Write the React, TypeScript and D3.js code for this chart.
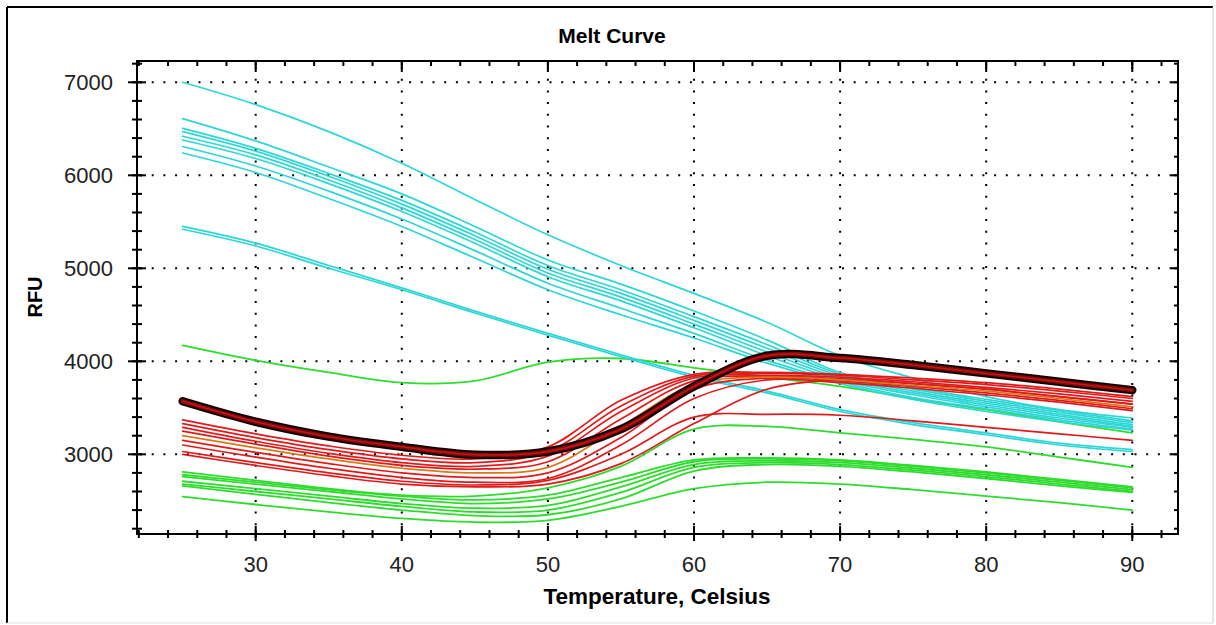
import React from "react";
import * as d3 from "d3";

const TEMPS = [25, 30, 35, 40, 45, 50, 55, 60, 65, 70, 75, 80, 85, 90];

const X_DOMAIN = [21.875, 93.13];
const Y_DOMAIN = [2143, 7229];
const X_MAJOR = [30, 40, 50, 60, 70, 80, 90];
const X_MINOR = [22, 24, 26, 28, 30, 32, 34, 36, 38, 40, 42, 44, 46, 48, 50, 52, 54, 56, 58, 60, 62, 64, 66, 68, 70, 72, 74, 76, 78, 80, 82, 84, 86, 88, 90, 92];
const Y_MAJOR = [3000, 4000, 5000, 6000, 7000];
const Y_MINOR = [2200, 2400, 2600, 2800, 3000, 3200, 3400, 3600, 3800, 4000, 4200, 4400, 4600, 4800, 5000, 5200, 5400, 5600, 5800, 6000, 6200, 6400, 6600, 6800, 7000, 7200];

const TITLE = "Melt Curve";
const X_LABEL = "Temperature, Celsius";
const Y_LABEL = "RFU";

// Cyan series
const CYAN_SERIES: number[][] = [
  [7000, 6760, 6470, 6130, 5740, 5360, 5030, 4730, 4420, 4060, 3820, 3620, 3480, 3390],
  [6610, 6370, 6090, 5800, 5450, 5090, 4830, 4540, 4230, 3880, 3720, 3590, 3470, 3360],
  [6505, 6290, 6020, 5730, 5390, 5030, 4770, 4480, 4180, 3860, 3700, 3570, 3450, 3340],
  [6470, 6260, 5990, 5690, 5350, 4990, 4730, 4440, 4140, 3840, 3680, 3550, 3430, 3320],
  [6420, 6220, 5950, 5650, 5310, 4950, 4690, 4400, 4100, 3820, 3660, 3530, 3410, 3300],
  [6380, 6180, 5910, 5610, 5270, 4910, 4650, 4360, 4060, 3800, 3640, 3510, 3390, 3290],
  [6310, 6100, 5830, 5530, 5190, 4840, 4570, 4300, 4010, 3780, 3610, 3490, 3370, 3270],
  [6240, 6030, 5750, 5450, 5110, 4770, 4500, 4250, 3980, 3760, 3590, 3460, 3350, 3260],
  [5450, 5270, 5030, 4790, 4540, 4300, 4070, 3850, 3680, 3480, 3340, 3230, 3120, 3050],
  [5420, 5240, 5000, 4770, 4520, 4280, 4050, 3830, 3660, 3460, 3320, 3210, 3100, 3030],
];

// Green series
const GREEN_SERIES: number[][] = [
  [4170, 4010, 3880, 3770, 3790, 3990, 4030, 3930, 3830, 3730, 3600, 3480, 3350, 3230],
  [2810, 2720, 2630, 2560, 2550, 2640, 2870, 3270, 3300, 3230, 3160, 3080, 2970, 2860],
  [2780, 2700, 2620, 2550, 2510, 2560, 2750, 2940, 2960, 2940, 2880, 2810, 2730, 2650],
  [2760, 2680, 2600, 2520, 2470, 2520, 2700, 2920, 2950, 2930, 2870, 2800, 2720, 2640],
  [2710, 2630, 2550, 2470, 2420, 2450, 2650, 2890, 2930, 2910, 2850, 2780, 2700, 2620],
  [2680, 2600, 2520, 2440, 2380, 2400, 2590, 2860, 2910, 2890, 2830, 2760, 2680, 2600],
  [2660, 2570, 2480, 2400, 2340, 2350, 2520, 2820, 2890, 2870, 2810, 2740, 2660, 2590],
  [2545, 2460, 2380, 2310, 2270, 2290, 2440, 2630, 2700, 2680, 2620, 2550, 2480, 2400],
];

// Red series
const RED_SERIES: number[][] = [
  [3370, 3220, 3090, 2990, 2950, 3080, 3580, 3860, 3880, 3860, 3820, 3770, 3700, 3620],
  [3330, 3180, 3050, 2950, 2910, 3030, 3520, 3840, 3870, 3850, 3800, 3750, 3680, 3600],
  [3290, 3140, 3010, 2910, 2870, 2980, 3460, 3820, 3850, 3830, 3780, 3720, 3650, 3570],
  [3250, 3110, 2980, 2880, 2840, 2920, 3380, 3790, 3840, 3810, 3760, 3700, 3620, 3540],
  [3150, 3020, 2900, 2800, 2750, 2800, 3180, 3700, 3820, 3790, 3730, 3660, 3580, 3490],
  [3100, 2970, 2850, 2750, 2700, 2740, 3100, 3600, 3800, 3770, 3710, 3640, 3560, 3470],
  [3030, 2910, 2800, 2710, 2670, 2720, 3000, 3400, 3430, 3420, 3360, 3290, 3220, 3150],
  [3000, 2880, 2770, 2680, 2650, 2680, 2900, 3330, 3700, 3800, 3760, 3700, 3620, 3540],
];

// Orange series
const ORANGE_SERIES: number[][] = [
  [3200, 3070, 2950, 2850, 2800, 2860, 3300, 3750, 3830, 3800, 3740, 3680, 3600, 3510],
];

// Highlighted series
const HIGHLIGHT: number[] = [3570, 3350, 3190, 3080, 2995, 3030, 3270, 3730, 4060, 4035, 3960, 3870, 3780, 3690];

const W = 1216;
const H = 625;
const PLOT = { left: 137, right: 1178, top: 61, bottom: 534 };
const FONT = "'Liberation Sans', Arial, Helvetica, sans-serif";

export default function App() {
  const x = d3.scaleLinear().domain(X_DOMAIN).range([PLOT.left, PLOT.right]);
  const y = d3.scaleLinear().domain(Y_DOMAIN).range([PLOT.bottom, PLOT.top]);
  const line = d3
    .line<number>()
    .x((_, i) => x(TEMPS[i]))
    .y((v) => y(v))
    .curve(d3.curveCatmullRom.alpha(0.5));

  const dots = "2 9.7";

  return (
    <div style={{ position: "absolute", left: 0, top: 0 }}>
      <svg width={W} height={H} style={{ display: "block", background: "#fff" }}>
        {/* panel border */}
        <line x1={7} y1={7} x2={W - 3} y2={7} stroke="#000" strokeWidth={2} />
        <line x1={7} y1={7} x2={7} y2={H - 2} stroke="#000" strokeWidth={2} />
        <line x1={W - 3} y1={7} x2={W - 3} y2={H - 2} stroke="#ccc" strokeWidth={1} />
        <line x1={7} y1={H - 2} x2={W - 3} y2={H - 2} stroke="#ddd" strokeWidth={1} />

        {/* grid */}
        <g>
          {X_MAJOR.map((t) => (
            <line key={"gx" + t} x1={x(t)} x2={x(t)} y1={PLOT.top + 6} y2={PLOT.bottom} stroke="#000" strokeWidth={2} strokeDasharray={dots} />
          ))}
          {Y_MAJOR.map((v) => (
            <line key={"gy" + v} x1={PLOT.left + 3} x2={PLOT.right} y1={y(v)} y2={y(v)} stroke="#000" strokeWidth={2} strokeDasharray={dots} />
          ))}
        </g>

        {/* series */}
        <g fill="none" strokeLinejoin="round" strokeLinecap="round">
          {GREEN_SERIES.map((s, i) => (
            <path key={"g" + i} d={line(s) || ""} stroke="#2edc2e" strokeWidth={1.8} />
          ))}
          {CYAN_SERIES.map((s, i) => (
            <path key={"c" + i} d={line(s) || ""} stroke="#2fd6d6" strokeWidth={1.7} />
          ))}
          {RED_SERIES.map((s, i) => (
            <path key={"r" + i} d={line(s) || ""} stroke="#e01a1a" strokeWidth={1.7} />
          ))}
          {ORANGE_SERIES.map((s, i) => (
            <path key={"o" + i} d={line(s) || ""} stroke="#d8781c" strokeWidth={1.7} />
          ))}
          <path d={line(HIGHLIGHT) || ""} stroke="#140000" strokeWidth={8.5} />
          <path d={line(HIGHLIGHT) || ""} stroke="#7a0a0a" strokeWidth={4.5} />
          <path d={line(HIGHLIGHT) || ""} stroke="#c81414" strokeWidth={1.5} />
        </g>

        {/* axes frame */}
        <rect x={PLOT.left} y={PLOT.top} width={PLOT.right - PLOT.left} height={PLOT.bottom - PLOT.top} fill="none" stroke="#000" strokeWidth={2} />

        {/* x ticks bottom & top */}
        {X_MINOR.map((t) => (
          <g key={"xm" + t}>
            <line x1={x(t)} x2={x(t)} y1={PLOT.bottom - 4} y2={PLOT.bottom + 4} stroke="#000" strokeWidth={2} />
            <line x1={x(t)} x2={x(t)} y1={PLOT.top} y2={PLOT.top + 5} stroke="#000" strokeWidth={2} />
          </g>
        ))}
        {X_MAJOR.map((t) => (
          <g key={"xM" + t}>
            <line x1={x(t)} x2={x(t)} y1={PLOT.bottom - 8} y2={PLOT.bottom + 7} stroke="#000" strokeWidth={2} />
            <line x1={x(t)} x2={x(t)} y1={PLOT.top} y2={PLOT.top + 11} stroke="#000" strokeWidth={2} />
            <text x={x(t)} y={572} textAnchor="middle" fontFamily={FONT} fontSize={22} fill="#222">
              {t}
            </text>
          </g>
        ))}

        {/* y ticks left & right */}
        {Y_MINOR.map((v) => (
          <g key={"ym" + v}>
            <line x1={PLOT.left - 5} x2={PLOT.left + 5} y1={y(v)} y2={y(v)} stroke="#000" strokeWidth={2} />
            <line x1={PLOT.right - 4} x2={PLOT.right} y1={y(v)} y2={y(v)} stroke="#000" strokeWidth={2} />
          </g>
        ))}
        {Y_MAJOR.map((v) => (
          <g key={"yM" + v}>
            <line x1={PLOT.left - 9} x2={PLOT.left + 9} y1={y(v)} y2={y(v)} stroke="#000" strokeWidth={2} />
            <line x1={PLOT.right - 7} x2={PLOT.right} y1={y(v)} y2={y(v)} stroke="#000" strokeWidth={2} />
            <text x={113} y={y(v)} dy="0.36em" textAnchor="end" fontFamily={FONT} fontSize={22} fill="#222">
              {v}
            </text>
          </g>
        ))}

        {/* labels */}
        <text x={612} y={43} textAnchor="middle" fontFamily={FONT} fontSize={21} fontWeight="bold" fill="#000">
          {TITLE}
        </text>
        <text x={657} y={604} textAnchor="middle" fontFamily={FONT} fontSize={22.5} fontWeight="bold" fill="#000">
          {X_LABEL}
        </text>
        <text transform="translate(42,297) rotate(-90)" textAnchor="middle" fontFamily={FONT} fontSize={20} fontWeight="bold" fill="#000">
          {Y_LABEL}
        </text>
      </svg>
    </div>
  );
}
